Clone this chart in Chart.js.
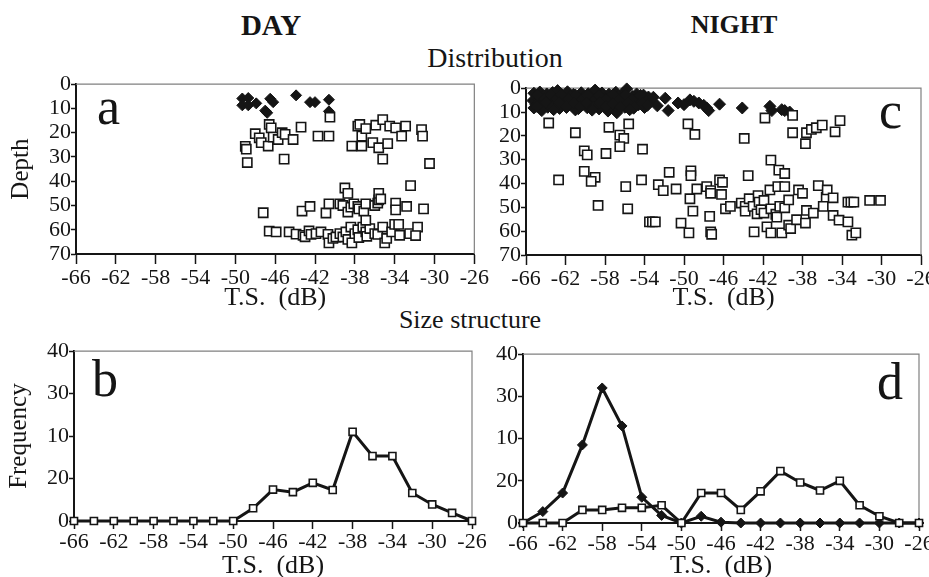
<!DOCTYPE html>
<html>
<head>
<meta charset="utf-8">
<script src="https://cdn.jsdelivr.net/npm/chart.js@4/dist/chart.umd.min.js"></script>
<style>
  body { margin: 0; width: 929px; height: 577px; overflow: hidden; background: #fff; position: relative; font-family: 'Liberation Serif', serif; color: #151515; }
  canvas { position: absolute; }
  .hd { position: absolute; white-space: nowrap; line-height: 1; transform: translateX(-50%); }
</style>
</head>
<body>
<div class="hd" style="left:271px;top:11px;font-size:29px;font-weight:bold">DAY</div>
<div class="hd" style="left:734px;top:12px;font-size:26px;font-weight:bold">NIGHT</div>
<div class="hd" style="left:495px;top:44px;font-size:28px">Distribution</div>
<div class="hd" style="left:470px;top:307px;font-size:26px">Size structure</div>

<canvas id="pa" width="490" height="243" style="left:0;top:71px"></canvas>
<canvas id="pc" width="495" height="239" style="left:450px;top:75px"></canvas>
<canvas id="pb" width="490" height="244" style="left:0;top:338px"></canvas>
<canvas id="pd" width="495" height="241" style="left:449px;top:341px"></canvas>

<script>
// T.S. (dB) vs depth (m) of single targets, and T.S. frequency per 2 dB class
const DAY_DIAMONDS = [
  [-49.3, 5.9], [-49.3, 8.7], [-48.7, 5.7], [-48.7, 8.7], [-47.9, 7.9], [-47.0, 10.9], [-46.8, 11.8],
  [-46.5, 6.0], [-46.2, 7.4], [-43.9, 4.6], [-42.5, 7.4], [-42.0, 7.4], [-40.6, 6.4], [-40.6, 11.2],
];
const DAY_SQUARES = [
  // upper layer
  [-49.0, 25.6], [-48.9, 26.8], [-48.8, 32.3], [-48.0, 20.4], [-47.6, 22.1], [-47.4, 24.1], [-46.7, 25.5],
  [-46.6, 16.6], [-46.4, 18.0], [-46.2, 21.8], [-45.7, 22.8], [-45.3, 20.0], [-45.0, 20.7], [-45.1, 30.9],
  [-44.2, 22.8], [-43.4, 17.7], [-41.7, 21.4], [-40.6, 21.4], [-40.5, 13.6], [-37.7, 17.3], [-37.5, 16.6],
  [-37.3, 21.4], [-36.9, 18.3], [-38.3, 25.5], [-37.3, 25.5], [-35.9, 16.9], [-35.2, 14.6], [-36.2, 24.1],
  [-35.6, 26.2], [-34.7, 24.5], [-35.2, 30.9], [-34.5, 17.3], [-33.9, 18.0], [-33.3, 21.4], [-32.9, 17.3],
  [-31.3, 18.7], [-31.2, 21.4], [-30.5, 32.7],
  // lower layer
  [-47.2, 53.0], [-46.6, 60.6], [-45.9, 60.9], [-44.6, 60.9], [-43.9, 61.8], [-43.2, 62.3], [-43.0, 62.9],
  [-42.6, 60.5], [-42.4, 61.9], [-41.9, 61.6], [-41.4, 60.9], [-40.7, 61.9], [-40.6, 65.4], [-40.2, 63.6],
  [-39.9, 63.0], [-39.5, 61.6], [-39.2, 63.0], [-38.9, 60.9], [-38.7, 64.0], [-38.4, 58.9], [-38.3, 65.4],
  [-38.0, 61.6], [-37.7, 60.0], [-37.6, 63.2], [-37.2, 58.9], [-36.9, 60.9], [-36.8, 62.7], [-36.5, 59.5],
  [-36.0, 61.6], [-35.7, 61.9], [-35.2, 58.9], [-35.0, 65.4], [-34.8, 63.6], [-34.3, 60.9], [-34.0, 57.8],
  [-33.6, 57.8], [-33.5, 62.3], [-32.5, 61.6], [-31.7, 58.9], [-31.9, 62.4],
  [-43.3, 52.3], [-42.5, 50.4], [-40.9, 53.1], [-40.6, 49.3], [-39.5, 49.3], [-39.0, 42.8], [-38.7, 45.0],
  [-39.2, 50.0], [-38.7, 52.7], [-38.4, 50.7], [-38.1, 49.3], [-37.7, 50.4], [-37.6, 51.4], [-37.1, 52.3],
  [-36.9, 49.3], [-36.9, 56.1], [-36.0, 50.0], [-35.7, 49.0], [-35.6, 47.7], [-35.6, 45.0], [-35.4, 47.3],
  [-33.9, 49.0], [-33.9, 51.8], [-32.8, 50.4], [-32.4, 41.8], [-31.1, 51.4],
];
const NIGHT_DIAMONDS = [
  // surface band
  [-65.2, 2.1], [-64.6, 1.6], [-63.9, 2.4], [-63.3, 1.8], [-62.5, 2.2], [-61.8, 1.5], [-61.2, 2.6], [-60.4, 1.9],
  [-59.7, 2.3], [-59.1, 1.4], [-58.3, 2.0], [-57.6, 2.5], [-56.9, 1.7], [-56.2, 2.2], [-55.8, 0.3], [-54.8, 2.4], [-54.1, 2.9],
  [-64.9, 3.6], [-64.2, 3.2], [-63.6, 4.0], [-62.9, 3.4], [-62.2, 3.9], [-61.5, 3.3], [-60.8, 4.1], [-60.1, 3.5],
  [-59.5, 3.8], [-58.8, 3.2], [-58.0, 4.2], [-57.3, 3.6], [-56.6, 3.3], [-55.9, 4.0], [-55.2, 3.5], [-54.5, 4.3], [-53.6, 3.7],
  [-65.3, 5.2], [-64.7, 4.8], [-64.0, 5.5], [-63.4, 5.0], [-62.7, 5.6], [-62.0, 4.9], [-61.3, 5.3], [-60.6, 5.8],
  [-59.9, 5.1], [-59.2, 5.6], [-58.5, 4.9], [-57.8, 5.4], [-57.1, 5.9], [-56.4, 5.2], [-55.7, 5.7], [-55.0, 5.0], [-54.3, 5.6], [-53.3, 5.3],
  [-65.0, 6.8], [-64.3, 6.4], [-63.7, 7.1], [-63.0, 6.6], [-62.3, 7.2], [-61.6, 6.5], [-60.9, 7.0], [-60.2, 6.7],
  [-59.6, 7.3], [-58.9, 6.6], [-58.2, 7.1], [-57.5, 6.8], [-56.8, 7.4], [-56.1, 6.5], [-55.4, 7.0], [-54.6, 6.9],
  [-65.2, 8.3], [-64.5, 8.8], [-63.8, 8.0], [-62.6, 8.5], [-61.9, 8.1], [-60.7, 8.6], [-59.8, 8.2], [-58.6, 8.7],
  [-57.2, 8.3], [-56.0, 8.0], [-55.1, 8.4], [-54.0, 8.1], [-64.4, 9.4], [-61.0, 9.1], [-57.7, 9.6], [-56.8, 10.3],
  [-62.8, 1.0], [-59.0, 0.8], [-53.1, 3.8], [-52.7, 7.4],
  [-64.8, 2.9], [-64.1, 4.4], [-63.5, 2.9], [-62.9, 4.6], [-62.4, 2.8], [-61.7, 4.5], [-61.0, 2.9], [-60.3, 4.7],
  [-59.8, 3.0], [-59.0, 4.5], [-58.6, 3.1], [-57.9, 4.8], [-57.2, 2.8], [-56.5, 4.6], [-55.9, 2.9], [-55.3, 4.7], [-54.4, 3.0],
  [-64.9, 7.6], [-64.0, 6.0], [-63.3, 7.8], [-62.6, 6.1], [-61.9, 7.7], [-61.2, 6.2], [-60.5, 7.8], [-59.9, 6.2],
  [-59.2, 7.9], [-58.5, 6.1], [-57.9, 7.8], [-57.2, 6.3], [-56.4, 7.9], [-55.7, 6.2], [-55.0, 7.8], [-54.2, 6.4], [-53.7, 7.2],
  [-63.2, 9.0], [-59.3, 9.2], [-55.5, 9.0],
  // scattered
  [-51.9, 4.2], [-51.6, 9.4], [-50.6, 6.2], [-50.0, 6.9], [-49.4, 4.9], [-49.0, 5.5], [-48.5, 6.2], [-48.0, 7.2],
  [-47.7, 8.3], [-47.5, 9.4], [-46.4, 6.7], [-44.1, 8.3], [-41.3, 7.6], [-41.1, 9.4], [-40.1, 9.0], [-39.8, 9.4], [-39.3, 10.0],
];
const NIGHT_SQUARES = [
  [-63.7, 14.6], [-61.0, 18.7], [-62.7, 38.5], [-60.1, 26.3], [-59.8, 28.0], [-60.1, 34.9], [-59.0, 37.4], [-59.4, 39.1],
  [-58.7, 49.2], [-57.9, 27.4], [-57.6, 16.4], [-56.5, 19.7], [-56.1, 21.1], [-56.5, 24.5], [-55.6, 15.0], [-55.9, 41.3],
  [-55.7, 50.6], [-54.2, 25.6], [-54.3, 38.5], [-53.5, 56.1], [-53.2, 56.1], [-52.9, 56.1], [-52.6, 40.5], [-52.1, 43.0],
  [-51.5, 35.3], [-50.8, 42.3], [-50.3, 56.6], [-49.6, 15.0], [-48.9, 19.4], [-49.3, 34.7], [-49.3, 36.7], [-49.4, 46.4],
  [-49.5, 60.7], [-49.1, 51.6], [-48.7, 42.3], [-47.7, 41.3], [-47.3, 43.0], [-47.3, 44.1], [-47.4, 53.8], [-47.3, 60.3],
  [-47.2, 61.3], [-46.4, 38.5], [-46.1, 39.5], [-46.2, 44.6], [-45.8, 50.6], [-45.3, 49.6], [-43.9, 21.1], [-43.5, 36.7],
  [-44.2, 48.2], [-43.8, 49.6], [-43.8, 51.6], [-43.4, 46.4], [-43.0, 49.6], [-42.9, 60.3], [-42.5, 45.1], [-42.4, 47.8],
  [-42.6, 52.7], [-42.2, 51.0], [-41.9, 52.4], [-41.9, 47.1], [-41.8, 12.5], [-41.6, 58.2], [-41.2, 30.2], [-41.3, 42.7],
  [-41.2, 60.7], [-41.2, 50.6], [-40.7, 52.9], [-40.6, 54.1], [-40.4, 34.4], [-40.5, 41.3], [-40.3, 49.6], [-39.8, 35.8],
  [-39.8, 41.3], [-40.1, 60.7], [-39.8, 50.2], [-39.4, 46.9], [-39.4, 57.5], [-39.2, 58.9], [-39.0, 11.4], [-39.0, 18.7],
  [-38.6, 55.2], [-38.4, 42.7], [-38.0, 44.1], [-37.7, 23.3], [-37.6, 18.7], [-37.7, 56.6], [-37.6, 51.3], [-37.1, 17.3],
  [-36.6, 16.6], [-36.9, 52.4], [-36.0, 15.5], [-36.4, 40.9], [-35.6, 45.7], [-35.9, 49.6], [-35.5, 42.7], [-34.9, 46.0],
  [-34.7, 18.3], [-34.9, 53.4], [-34.3, 55.4], [-34.2, 13.6], [-33.4, 47.8], [-33.1, 47.8], [-32.8, 47.8], [-33.4, 56.1],
  [-33.0, 61.7], [-32.6, 60.7], [-31.2, 47.1], [-30.1, 47.1],
];

const TS_CLASSES = [-66, -64, -62, -60, -58, -56, -54, -52, -50, -48, -46, -44, -42, -40, -38, -36, -34, -32, -30, -28, -26];
const DAY_FREQ = [0, 0, 0, 0, 0, 0, 0, 0, 0, 3.0, 7.4, 6.8, 9.0, 7.3, 21.0, 15.3, 15.3, 6.6, 3.9, 1.9, 0];
const NIGHT_FREQ_DIAMOND = [0, 2.7, 7.1, 18.5, 32.0, 23.0, 6.1, 1.8, 0, 1.6, 0.2, 0, 0, 0, 0, 0, 0, 0, 0, 0, 0];
const NIGHT_FREQ_SQUARE = [0, 0, 0, 3.1, 3.1, 3.6, 3.6, 4.2, 0, 7.1, 7.1, 3.1, 7.5, 12.3, 9.6, 7.7, 10.0, 4.2, 1.6, 0, 0];
const FREQ_TICK_TEXT = ['0', '20', '10', '30', '40'];

const INK = '#151515';
const FONT = "'Liberation Serif', 'Times New Roman', serif";

// border box + the panel letter
const framePlugin = {
  id: 'frame',
  beforeDatasetsDraw(chart, _, o) {
    const { ctx, chartArea: a } = chart;
    ctx.save();
    ctx.strokeStyle = '#808080'; ctx.lineWidth = 1.2;
    ctx.beginPath(); ctx.moveTo(a.left, a.top); ctx.lineTo(a.right, a.top); ctx.lineTo(a.right, a.bottom); ctx.stroke();
    ctx.font = `52px ${FONT}`; ctx.fillStyle = INK; ctx.textBaseline = 'alphabetic';
    ctx.textAlign = o.right ? 'right' : 'left';
    ctx.fillText(o.tag, o.right ? a.right - o.dx : a.left + o.dx, a.top + o.dy);
    ctx.restore();
  }
};

const xy = (xs, ys) => xs.map((x, i) => ({ x, y: ys[i] }));
const pts = arr => arr.map(([x, y]) => ({ x, y }));

function panel(id, datasets, opt) {
  const y = {
    type: 'linear', min: 0, max: opt.ymax, reverse: !!opt.reverse,
    ticks: { stepSize: 10, autoSkip: false, color: INK, font: { family: FONT, size: 22 }, padding: 0, callback: opt.ylabel || (v => v) },
    grid: { drawOnChartArea: false, color: INK, tickLength: 5, tickWidth: 1.5 },
    border: { color: INK, width: 2 },
    title: { display: !!opt.ytitle, text: opt.ytitle, color: INK, font: { family: FONT, size: 25 }, padding: { top: opt.ytpad || 0, bottom: 0 } },
    afterFit: s => { s.width = opt.yw; },
  };
  const x = {
    type: 'linear', min: -66, max: -26,
    ticks: { stepSize: 4, color: INK, font: { family: FONT, size: 22 }, padding: opt.xtpad, autoSkip: false, maxRotation: 0 },
    grid: { drawOnChartArea: false, color: INK, tickLength: opt.xtick, tickWidth: 1.5 },
    border: { color: INK, width: 2 },
    title: { display: true, text: 'T.S.  (dB)', color: INK, font: { family: FONT, size: 26 }, padding: 0 },
    afterFit: s => { s.height = opt.xh; },
  };
  return new Chart(document.getElementById(id), {
    type: 'scatter',
    data: { datasets },
    options: {
      responsive: false, animation: false, events: [],
      layout: { padding: opt.pad },
      scales: { x, y },
      plugins: { legend: { display: false }, tooltip: { enabled: false }, frame: opt.tag },
    },
    plugins: [framePlugin],
  });
}

const squares = (data, r) => ({ data, pointStyle: 'rect', pointRadius: r, pointBackgroundColor: '#fff', pointBorderColor: INK, pointBorderWidth: 1.6, clip: false });
const diamonds = (data, r) => ({ data, pointStyle: 'rectRot', pointRadius: r, pointBackgroundColor: INK, pointBorderColor: INK, pointBorderWidth: 1, clip: false });
const line = ds => Object.assign(ds, { type: 'line', showLine: true, borderColor: INK, borderWidth: 3, tension: 0 });

// a: day distribution
panel('pa', [squares(pts(DAY_SQUARES), 6.5), diamonds(pts(DAY_DIAMONDS), 5.5)],
  { ymax: 70, reverse: true, yw: 76, xh: 60, xtick: 10, xtpad: 1, pad: { top: 12, right: 15 }, ytitle: 'Depth', ytpad: 6, tag: { tag: 'a', dx: 21, dy: 40 } });

// c: night distribution
panel('pc', [squares(pts(NIGHT_SQUARES), 6.5), diamonds(pts(NIGHT_DIAMONDS), 6)],
  { ymax: 70, reverse: true, yw: 76, xh: 59, xtick: 10, xtpad: 1, pad: { top: 12, right: 24 }, tag: { tag: 'c', dx: 19, dy: 40, right: true } });

// b: day size structure
panel('pb', [line(squares(xy(TS_CLASSES, DAY_FREQ), 5))],
  { ymax: 40, yw: 74, xh: 61, xtick: 8, xtpad: 0, pad: { top: 12, right: 18 }, ylabel: v => FREQ_TICK_TEXT[v / 10], ytitle: 'Frequency', ytpad: 4, tag: { tag: 'b', dx: 18, dy: 45 } });

// d: night size structure
panel('pd', [line(squares(xy(TS_CLASSES, NIGHT_FREQ_SQUARE), 5)), line(diamonds(xy(TS_CLASSES, NIGHT_FREQ_DIAMOND), 5))],
  { ymax: 40, yw: 74, xh: 59, xtick: 8, xtpad: 0, pad: { top: 12, right: 25 }, ylabel: v => FREQ_TICK_TEXT[v / 10], tag: { tag: 'd', dx: 16, dy: 45, right: true } });
</script>
</body>
</html>
